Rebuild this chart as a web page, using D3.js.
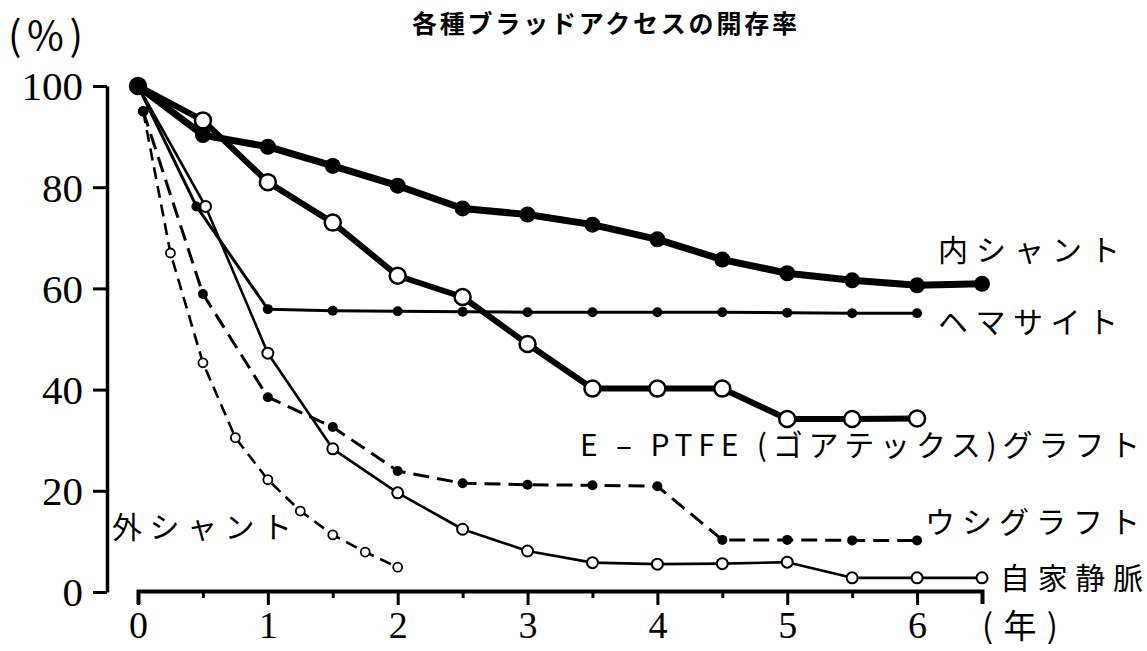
<!DOCTYPE html>
<html><head><meta charset="utf-8">
<script src="https://cdn.jsdelivr.net/npm/d3@7"></script>
<style>body{margin:0;background:#fff;overflow:hidden}</style>
</head><body>
<svg id="c" width="1147" height="651"></svg>
<script>
// ---- data (years, patency %) ----
const title = "各種ブラッドアクセスの開存率";
const yTicks = [0, 20, 40, 60, 80, 100];
const xMajorTicks = [0, 1, 2, 3, 4, 5, 6];
const xMinorTicks = [0.5, 1.5, 2.5, 3.5, 4.5, 5.5];

const internalShuntT = [0, 0.5, 1, 1.5, 2, 2.5, 3, 3.5, 4, 4.5, 5, 5.5, 6, 6.5];
const internalShuntV = [100, 90.3, 88, 84.2, 80.3, 75.8, 74.6, 72.6, 69.7, 65.7, 63, 61.6, 60.6, 60.9];

const eptfeT = [0, 0.5, 1, 1.5, 2, 2.5, 3, 3.5, 4, 4.5, 5, 5.5, 6];
const eptfeV = [100, 93.2, 81, 73, 62.5, 58.3, 49, 40.2, 40.2, 40.2, 34.2, 34.2, 34.3];

const hemasiteT = [0, 0.45, 1, 1.5, 2, 2.5, 3, 3.5, 4, 4.5, 5, 5.5, 6];
const hemasiteV = [100, 76.2, 55.9, 55.6, 55.5, 55.4, 55.3, 55.3, 55.3, 55.3, 55.2, 55.1, 55.1];

const bovineT = [0.04, 0.5, 1, 1.5, 2, 2.5, 3, 3.5, 4, 4.5, 5, 5.5, 6];
const bovineV = [95, 58.9, 38.5, 32.6, 23.9, 21.5, 21.2, 21.1, 20.9, 10.3, 10.3, 10.2, 10.2];

const veinT = [0, 0.52, 1, 1.5, 2, 2.5, 3, 3.5, 4, 4.5, 5, 5.5, 6, 6.5];
const veinV = [100, 76.2, 47.2, 28.3, 19.6, 12.4, 8.1, 5.8, 5.5, 5.6, 5.9, 2.8, 2.8, 2.8];

const externalShuntT = [0.04, 0.25, 0.5, 0.75, 1, 1.25, 1.5, 1.75, 2];
const externalShuntV = [95, 67, 45.3, 30.5, 22.2, 16, 11.3, 7.9, 4.9];

const seriesLabels = ["内シャント", "ヘマサイト", "E – PTFE (ゴアテックス)グラフト", "ウシグラフト", "自家静脈", "外シャント"];

// ---- chart ----
const svg = d3.select("#c");
const x = d3.scaleLinear().domain([0, 6.5]).range([138, 982]);
const y = d3.scaleLinear().domain([0, 100]).range([592, 86]);
const serif = "'Liberation Serif','DejaVu Serif',serif";
const jp = "'Noto Sans CJK JP','Noto Sans',sans-serif";

// title
svg.append("text").attr("x", 412).attr("y", 33)
  .attr("font-family", jp).attr("font-weight", 700).attr("font-size", 25)
  .attr("textLength", 385).attr("lengthAdjust", "spacing").text(title);

// unit labels
svg.append("text").attr("x", 8).attr("y", 50).attr("font-family", jp)
  .attr("font-size", 40).attr("textLength", 75).attr("lengthAdjust", "spacing").text("(%)");
svg.append("text").attr("x", 982).attr("y", 638).attr("font-family", jp)
  .attr("font-size", 33).attr("textLength", 76).attr("lengthAdjust", "spacing").text("(年)");

// y axis
const yAxis = d3.axisLeft(y).tickValues(yTicks).tickSize(14).tickSizeOuter(0).tickPadding(10);
const gy = svg.append("g").attr("transform", "translate(107,0)").call(yAxis);
gy.select(".domain").attr("stroke-width", 3.5).attr("stroke", "#000");
gy.selectAll(".tick line").attr("stroke-width", 3).attr("stroke", "#000");
gy.selectAll(".tick text").attr("font-family", serif).attr("font-size", 41)
  .attr("fill", "#000").attr("dy", "0.34em");

// x axis
const xAxis = d3.axisBottom(x).tickValues(xMajorTicks).tickFormat(d3.format("d"))
  .tickSize(14).tickSizeOuter(13).tickPadding(6);
const gx = svg.append("g").attr("transform", "translate(0,591)").call(xAxis);
gx.select(".domain").attr("stroke-width", 4).attr("stroke", "#000");
gx.selectAll(".tick line").attr("stroke-width", 3).attr("stroke", "#000");
gx.selectAll(".tick text").attr("font-family", serif).attr("font-size", 38)
  .attr("fill", "#000").attr("dy", "0.7em");
const xMinor = d3.axisBottom(x).tickValues(xMinorTicks).tickSize(7).tickSizeOuter(0).tickFormat("");
const gxm = svg.append("g").attr("transform", "translate(0,591)").call(xMinor);
gxm.select(".domain").remove();
gxm.selectAll(".tick line").attr("stroke-width", 3).attr("stroke", "#000");

// series drawing helper
function drawSeries(ts, vs, opt) {
  const pts = ts.map((t, i) => [t, vs[i]]);
  const line = d3.line().x(d => x(d[0])).y(d => y(d[1]));
  svg.append("path").datum(pts).attr("d", line)
    .attr("fill", "none").attr("stroke", "#000").attr("stroke-width", opt.lw)
    .attr("stroke-linejoin", "round")
    .attr("stroke-dasharray", opt.dash || null);
  svg.append("g").selectAll("circle").data(pts).join("circle")
    .attr("cx", d => x(d[0])).attr("cy", d => y(d[1])).attr("r", opt.r)
    .attr("fill", opt.open ? "#fff" : "#000")
    .attr("stroke", "#000").attr("stroke-width", opt.open ? opt.sw : 0);
}

drawSeries(externalShuntT, externalShuntV, {lw: 2.6, dash: "12,7", r: 4.5, open: true, sw: 1.8});
drawSeries(veinT, veinV, {lw: 2.6, r: 5.5, open: true, sw: 2});
drawSeries(bovineT, bovineV, {lw: 3, dash: "16,8", r: 5, open: false});
drawSeries(hemasiteT, hemasiteV, {lw: 3, r: 5, open: false});
drawSeries(eptfeT, eptfeV, {lw: 6, r: 8, open: true, sw: 2.5});
drawSeries(internalShuntT, internalShuntV, {lw: 7, r: 8, open: false});

// series labels
const labelPos = [
  {x: 938, y: 261, w: 182},
  {x: 938, y: 333, w: 180},
  {x: 580, y: 456, w: 560},
  {x: 925, y: 533, w: 215},
  {x: 1000, y: 589, w: 143},
  {x: 112, y: 538, w: 180}
];
labelPos.forEach((p, i) => {
  svg.append("text").attr("x", p.x).attr("y", p.y).attr("font-family", jp)
    .attr("font-size", 30).attr("textLength", p.w).attr("lengthAdjust", "spacing")
    .attr("fill", "#000").text(seriesLabels[i]);
});
</script>
</body></html>
